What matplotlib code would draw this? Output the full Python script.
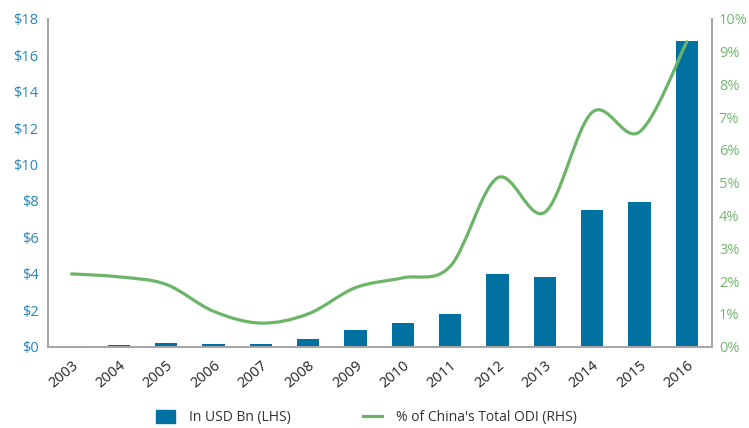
import numpy as np
import matplotlib
matplotlib.use("Agg")
import matplotlib.pyplot as plt
from matplotlib.path import Path
from matplotlib.patches import PathPatch
from matplotlib.lines import Line2D
from matplotlib.patches import Patch

# ODI values by year
years = ["2003", "2004", "2005", "2006", "2007", "2008", "2009",
         "2010", "2011", "2012", "2013", "2014", "2015", "2016"]
usd_bn = [0.02, 0.10, 0.20, 0.15, 0.15, 0.43, 0.90,
          1.28, 1.77, 3.97, 3.80, 7.50, 7.95, 16.8]
pct_total = [2.22, 2.13, 1.90, 1.08, 0.72, 1.00, 1.80,
             2.10, 2.45, 5.15, 4.10, 7.15, 6.55, 9.30]

left_ticks = [0, 2, 4, 6, 8, 10, 12, 14, 16, 18]
right_ticks = [0, 1, 2, 3, 4, 5, 6, 7, 8, 9, 10]

bar_col = "#0071a1"
line_col = "#6cb468"
lhs_col = "#2a86b8"
rhs_col = "#73b870"
spine_col = "#a6a6a6"

plt.rcParams["font.family"] = ["Open Sans", "DejaVu Sans"]

fig = plt.figure(figsize=(7.49, 4.28), dpi=100)
ax = fig.add_axes([0.0645, 0.19, 0.886, 0.766])
ax2 = ax.twinx()

x = np.arange(len(years))
ax.bar(x, usd_bn, width=0.47, color=bar_col, zorder=2)

# smoothed line (cardinal spline through the yearly points, like a spreadsheet "smooth line")
pts = np.column_stack([x, pct_total]).astype(float)
verts = [tuple(pts[0])]
codes = [Path.MOVETO]
for i in range(len(pts) - 1):
    p0 = pts[i - 1] if i > 0 else pts[i]
    p1 = pts[i]
    p2 = pts[i + 1]
    p3 = pts[i + 2] if i + 2 < len(pts) else pts[i + 1]
    c1 = p1 + (p2 - p0) / 6.0
    c2 = p2 - (p3 - p1) / 6.0
    verts += [tuple(c1), tuple(c2), tuple(p2)]
    codes += [Path.CURVE4] * 3
ax2.add_patch(PathPatch(Path(verts, codes), fill=False, edgecolor=line_col,
                        lw=2.3, capstyle="round", zorder=3))

ax.set_xlim(-0.49, 13.53)
ax.set_ylim(0, 18)
ax2.set_ylim(0, 10)

ax.set_yticks(left_ticks)
ax.set_yticklabels(["$%d" % v for v in left_ticks])
ax2.set_yticks(right_ticks)
ax2.set_yticklabels(["%d%%" % v for v in right_ticks])

ax.set_xticks(x)
ax.set_xticklabels(years, rotation=40, ha="right", rotation_mode="anchor")

ax.tick_params(axis="y", length=0, pad=7, labelsize=10.5, labelcolor=lhs_col)
ax2.tick_params(axis="y", length=0, pad=5, labelsize=10.5, labelcolor=rhs_col)
ax.tick_params(axis="x", length=0, pad=8, labelsize=10.5, labelcolor="#222222")

for a in (ax, ax2):
    a.spines["top"].set_visible(False)
    for s in ("left", "right", "bottom"):
        a.spines[s].set_color(spine_col)
        a.spines[s].set_linewidth(1.4)

handles = [Patch(color=bar_col), Line2D([0], [0], color=line_col, lw=2.3)]
fig.legend(handles, ["In USD Bn (LHS)", "% of China's Total ODI (RHS)"],
           loc="center", bbox_to_anchor=(0.489, 0.024), ncol=2, frameon=False,
           fontsize=10, labelcolor="#333333", columnspacing=5.2,
           handlelength=1.4, handleheight=1.1, handletextpad=1.0)

fig.savefig("out.png", dpi=100)
